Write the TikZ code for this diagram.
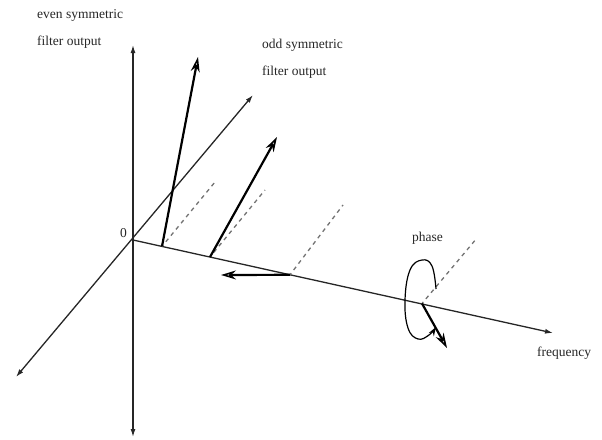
\documentclass[tikz,border=0pt]{standalone}
\usepackage{fontspec}
\setmainfont{Liberation Serif}
\newfontfamily\figfont{Liberation Serif}
\usetikzlibrary{arrows.meta}
\begin{document}
\begin{tikzpicture}[x=1pt,y=-1pt,
  axisline/.style={line width=1.3pt, draw=black!85},
  axtip/.style={-{Latex[length=8pt,width=5pt]}},
  vec/.style={line width=2.2pt, -{Stealth[open,length=15pt,width=9pt,line width=1.6pt]}},
  dashline/.style={line width=1.3pt, draw=black!55, dash pattern=on 4pt off 4pt, dash phase=2pt},
  lbl/.style={font=\figfont\fontsize{13.5}{15}\selectfont, inner sep=0pt, anchor=west, text=black!85}]
\useasboundingbox (0,0) rectangle (602,439);
% axis points
\coordinate (O) at (133,240);
\coordinate (vtop) at (133,45);
\coordinate (vbot) at (133,437);
\coordinate (dtop) at (253,95);
\coordinate (dbot) at (16,377);
\coordinate (ftip) at (553,333);
% points on the frequency axis
\coordinate (P1) at (162,246.4);
\coordinate (P2) at (210,257);
\coordinate (P3) at (290,274.8);
\coordinate (P4) at (422,303.5);
% vector tips
\coordinate (T1) at (198,57);
\coordinate (T2) at (277,137);
\coordinate (T3) at (221,275);
\coordinate (T4) at (447,348);
% dashed ends
\coordinate (D1) at (215,182);
\coordinate (D2) at (265,190);
\coordinate (D3) at (343,205);
\coordinate (D4) at (477,238);
% axes
\draw[axisline,{Latex[length=8pt,width=5pt]}-{Latex[length=8pt,width=5pt]}] (vbot) -- (vtop);
\draw[axisline,{Latex[length=8pt,width=5pt]}-{Latex[length=8pt,width=5pt]}] (dbot) -- (dtop);
\draw[axisline,axtip] (O) -- (ftip);
% dashed lines
\draw[dashline] (P1) -- (D1);
\draw[dashline] (P2) -- (D2);
\draw[dashline] (P3) -- (D3);
\draw[dashline] (P4) -- (D4);
% vectors
\draw[vec] (P1) -- (T1);
\draw[vec] (P2) -- (T2);
\draw[vec] (P3) -- (T3);
\draw[vec] (P4) -- (T4);
% phase loop
\draw[line width=1.2pt, -{Stealth[open,length=9pt,width=6pt]}] plot[smooth, tension=0.7] coordinates {(436,289) (432,266) (422,260) (410,270) (405,300) (408,328) (418,339) (429,335) (436,327)};
% labels
\node[lbl] (even1) at (37,15) {even symmetric};
\node[lbl] (even2) at (37,42) {filter output};
\node[lbl] (odd1) at (262,45) {odd symmetric};
\node[lbl] (odd2) at (262,72) {filter output};
\node[lbl] (zero) at (120,233) {0};
\node[lbl] (phase) at (412,238) {phase};
\node[lbl] (freq) at (537,353) {frequency};
\end{tikzpicture}
\end{document}
